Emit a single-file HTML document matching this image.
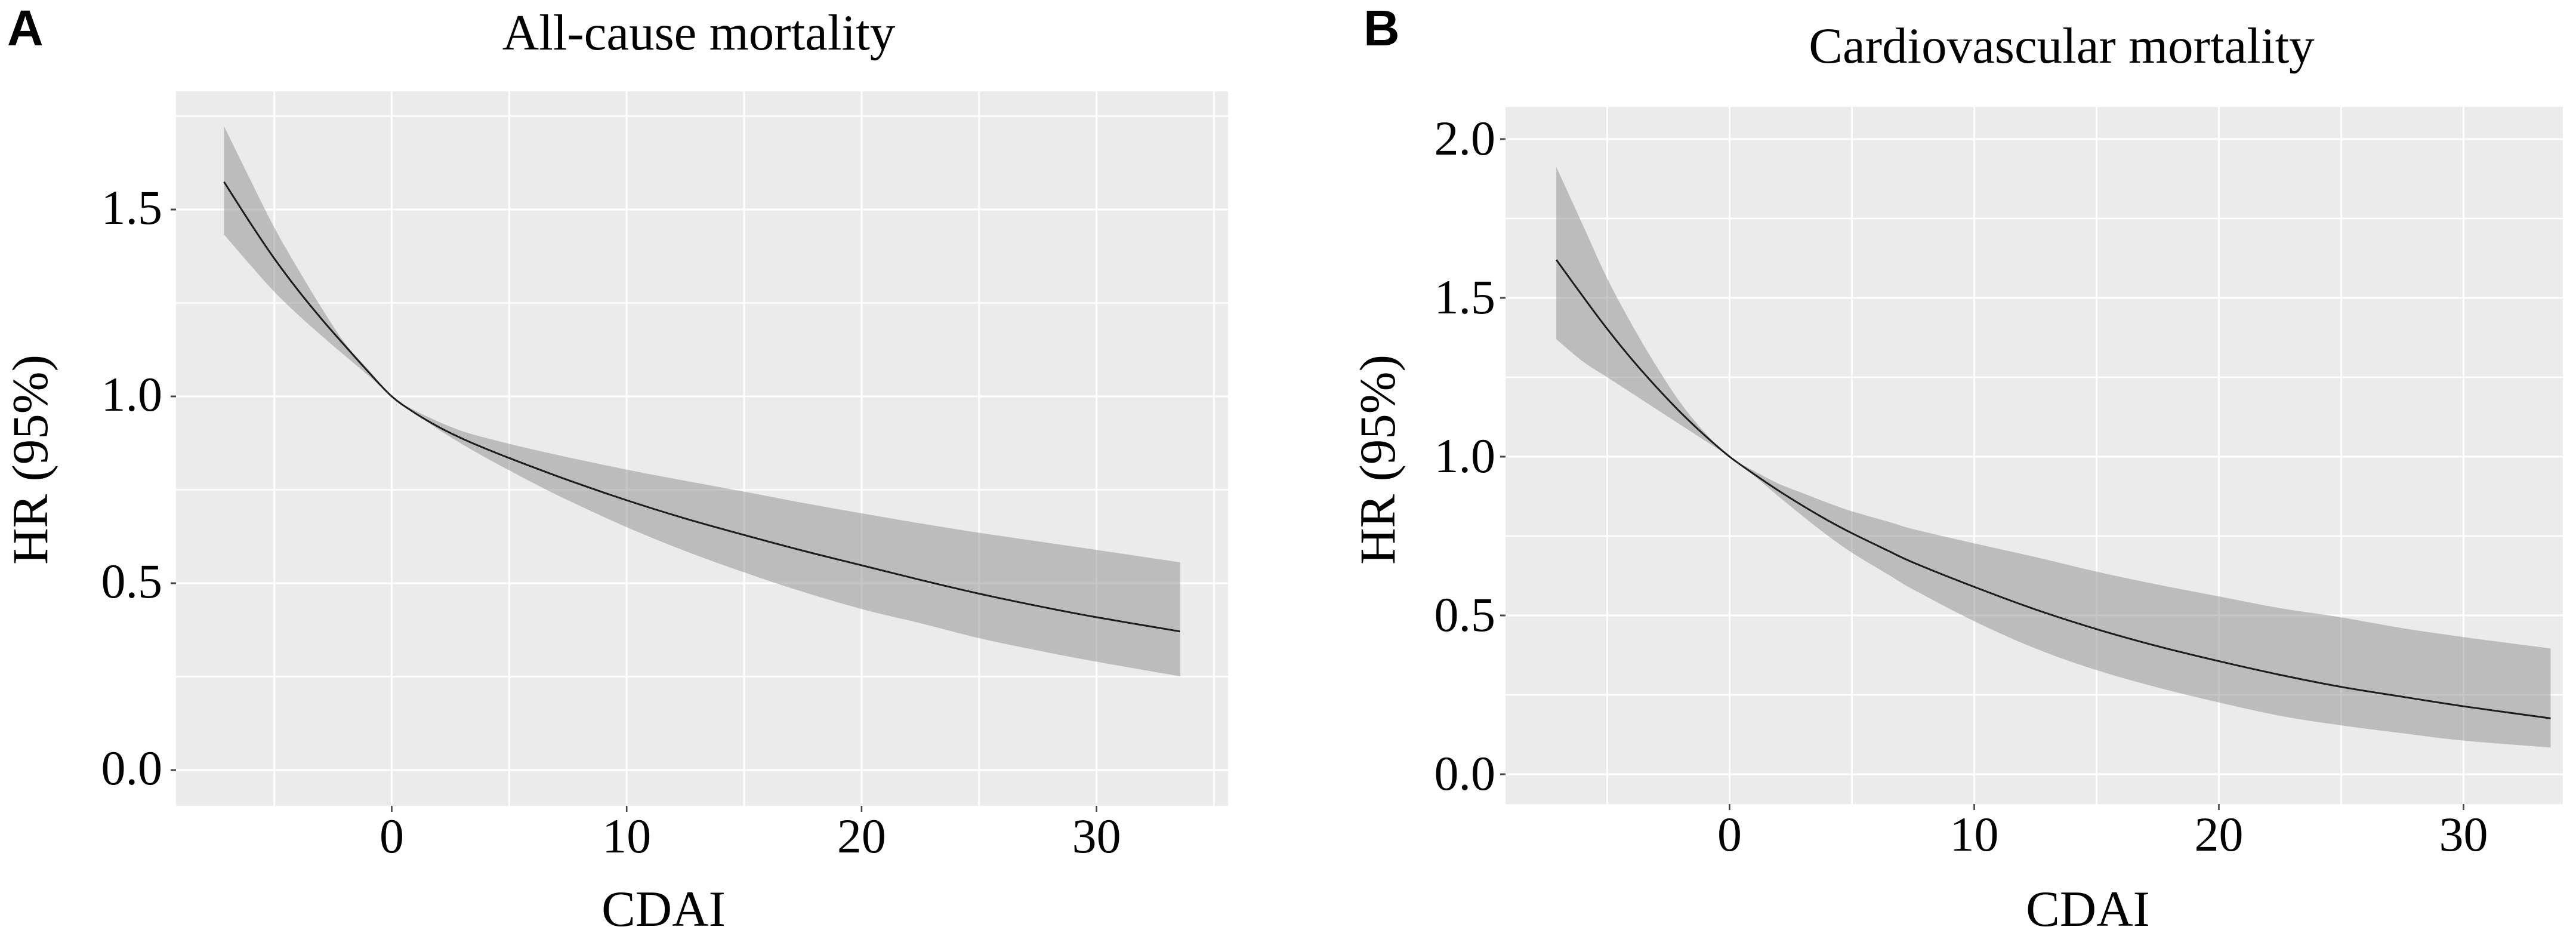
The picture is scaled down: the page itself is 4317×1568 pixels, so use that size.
<!DOCTYPE html>
<html lang="en">
<head>
<meta charset="utf-8">
<title>HR by CDAI: all-cause and cardiovascular mortality</title>
<style>
  html, body { margin: 0; padding: 0; background: #fff; }
  svg { display: block; }
  text { font-family: "Liberation Serif", serif; fill: #000; }
  .letter { font-family: "Liberation Sans", sans-serif; font-weight: bold; font-size: 84px; }
  .title, .axis-title { font-size: 85px; }
  .tick-label { font-size: 82px; }
</style>
</head>
<body>
<svg id="figure" xmlns="http://www.w3.org/2000/svg" width="4317" height="1568" viewBox="0 0 4317 1568">
  <rect x="0" y="0" width="4317" height="1568" fill="#ffffff"/>

  <g id="panel-a"></g>
  <g id="panel-b"></g>

  <text class="letter" x="12" y="76">A</text>
  <text class="title" x="1171" y="83" text-anchor="middle">All-cause mortality</text>
  <text class="axis-title" x="1112" y="1551" text-anchor="middle">CDAI</text>
  <text class="axis-title" text-anchor="middle" transform="translate(79 770) rotate(-90)">HR (95%)</text>

  <text class="letter" x="2285" y="76">B</text>
  <text class="title" x="3455" y="105" text-anchor="middle">Cardiovascular mortality</text>
  <text class="axis-title" x="3499" y="1551" text-anchor="middle">CDAI</text>
  <text class="axis-title" text-anchor="middle" transform="translate(2337 770) rotate(-90)">HR (95%)</text>
</svg>

<script>
// ---- Shared tick values ----
const xTicks = [0, 10, 20, 30];
const xTickLabels = ['0', '10', '20', '30'];

// ---- Panel A: all-cause mortality ----
const cdaiA = [-7.14, -6, -5, -4, -3, -2, -1, 0, 1, 2, 3, 4, 5, 6, 7.5, 10, 12.5, 15, 17.5, 20, 22.5, 25, 27.5, 30, 33.56];
const hrA = [1.574, 1.462, 1.369, 1.285, 1.208, 1.136, 1.066, 1.0, 0.955, 0.918, 0.887, 0.860, 0.835, 0.811, 0.776, 0.722, 0.673, 0.629, 0.587, 0.548, 0.509, 0.472, 0.439, 0.409, 0.371];
const upperA = [1.723, 1.577, 1.452, 1.342, 1.238, 1.143, 1.072, 1.0, 0.962, 0.932, 0.907, 0.889, 0.873, 0.858, 0.837, 0.804, 0.774, 0.745, 0.715, 0.687, 0.660, 0.635, 0.612, 0.589, 0.556];
const lowerA = [1.433, 1.350, 1.280, 1.219, 1.163, 1.109, 1.056, 1.0, 0.954, 0.911, 0.872, 0.836, 0.802, 0.769, 0.722, 0.650, 0.586, 0.529, 0.477, 0.431, 0.393, 0.353, 0.320, 0.290, 0.251];
const yMajorA = [0, 0.5, 1.0, 1.5];
const yMajorLabelsA = ['0.0', '0.5', '1.0', '1.5'];
const yMinorA = [0.25, 0.75, 1.25, 1.75];
const xGridA = [-5, 0, 5, 10, 15, 20, 25, 30, 35];

// ---- Panel B: cardiovascular mortality ----
const cdaiB = [-7.08, -6, -5, -4, -3, -2, -1, 0, 1, 2, 3, 4, 5, 6.5, 7.5, 10, 12.5, 15, 17.5, 20, 22.5, 25, 27.5, 30, 33.56];
const hrB = [1.620, 1.505, 1.402, 1.307, 1.220, 1.139, 1.066, 1.0, 0.945, 0.893, 0.845, 0.800, 0.759, 0.703, 0.667, 0.590, 0.519, 0.457, 0.403, 0.356, 0.313, 0.275, 0.244, 0.214, 0.176];
const upperB = [1.912, 1.730, 1.561, 1.417, 1.286, 1.169, 1.075, 1.0, 0.955, 0.915, 0.885, 0.855, 0.828, 0.795, 0.772, 0.727, 0.684, 0.638, 0.597, 0.560, 0.523, 0.494, 0.460, 0.432, 0.396];
const lowerB = [1.370, 1.300, 1.250, 1.200, 1.150, 1.100, 1.050, 1.0, 0.940, 0.875, 0.812, 0.752, 0.698, 0.628, 0.582, 0.482, 0.396, 0.328, 0.273, 0.226, 0.184, 0.154, 0.129, 0.106, 0.084];
const yMajorB = [0, 0.5, 1.0, 1.5, 2.0];
const yMajorLabelsB = ['0.0', '0.5', '1.0', '1.5', '2.0'];
const yMinorB = [0.25, 0.75, 1.25, 1.75];
const xGridB = [-5, 0, 5, 10, 15, 20, 25, 30];

const SVG_NS = 'http://www.w3.org/2000/svg';

function make(parent, tag, attrs) {
  const el = document.createElementNS(SVG_NS, tag);
  for (const k in attrs) el.setAttribute(k, attrs[k]);
  parent.appendChild(el);
  return el;
}

// Smooth path segments (Catmull-Rom) through screen points; the caller supplies the start command.
function smoothSegments(pts) {
  let d = '';
  for (let i = 0; i < pts.length - 1; i++) {
    const p0 = pts[Math.max(i - 1, 0)];
    const p1 = pts[i];
    const p2 = pts[i + 1];
    const p3 = pts[Math.min(i + 2, pts.length - 1)];
    const c1x = p1[0] + (p2[0] - p0[0]) / 6;
    const c1y = p1[1] + (p2[1] - p0[1]) / 6;
    const c2x = p2[0] - (p3[0] - p1[0]) / 6;
    const c2y = p2[1] - (p3[1] - p1[1]) / 6;
    d += 'C' + c1x.toFixed(1) + ' ' + c1y.toFixed(1) + ' ' + c2x.toFixed(1) + ' ' + c2y.toFixed(1) + ' ' + p2[0].toFixed(1) + ' ' + p2[1].toFixed(1);
  }
  return d;
}

function drawPanel(g, box, xScale, yScale, cdai, hr, upper, lower, xGrid, yMajor, yMinor, yLabels, xLabelBaseline, yLabelOffset, yLabelRight) {
  const bg = make(g, 'rect', { x: box.left, y: box.top, width: box.right - box.left, height: box.bottom - box.top, fill: '#ebebeb' });
  
  

  yMinor.forEach(function (v) {
    const line = make(g, 'line', { x1: box.left, x2: box.right, y1: yScale(v), y2: yScale(v), stroke: '#ffffff', 'stroke-width': 2.6 });
    
    
  });
  yMajor.forEach(function (v) {
    const line = make(g, 'line', { x1: box.left, x2: box.right, y1: yScale(v), y2: yScale(v), stroke: '#ffffff', 'stroke-width': 3 });
    
    
  });
  xGrid.forEach(function (v) {
    const line = make(g, 'line', { x1: xScale(v), x2: xScale(v), y1: box.top, y2: box.bottom, stroke: '#ffffff', 'stroke-width': 3 });
    
    
  });

  const upperPts = cdai.map(function (c, i) { return [xScale(c), yScale(upper[i])]; });
  const lowerPts = cdai.map(function (c, i) { return [xScale(c), yScale(lower[i])]; }).reverse();
  const centerPts = cdai.map(function (c, i) { return [xScale(c), yScale(hr[i])]; });

  const ribbonPath = 'M' + upperPts[0][0].toFixed(1) + ' ' + upperPts[0][1].toFixed(1) + smoothSegments(upperPts) +
    'L' + lowerPts[0][0].toFixed(1) + ' ' + lowerPts[0][1].toFixed(1) + smoothSegments(lowerPts) + 'Z';
  const ribbon = make(g, 'path', { d: ribbonPath, fill: '#8d8d8d', 'fill-opacity': 0.5 });
  
  

  const linePath = 'M' + centerPts[0][0].toFixed(1) + ' ' + centerPts[0][1].toFixed(1) + smoothSegments(centerPts);
  const curve = make(g, 'path', { d: linePath, fill: 'none', stroke: '#1c1c1c', 'stroke-width': 3 });
  
  

  yMajor.forEach(function (v, i) {
    const tick = make(g, 'line', { x1: box.left - 9, x2: box.left, y1: yScale(v), y2: yScale(v), stroke: '#444444', 'stroke-width': 3 });
    
    
    const label = make(g, 'text', { class: 'tick-label', x: yLabelRight, y: yScale(v) + yLabelOffset, 'text-anchor': 'end' });
    
    
    label.textContent = yLabels[i];
  });

  xTicks.forEach(function (v, i) {
    const tick = make(g, 'line', { x1: xScale(v), x2: xScale(v), y1: box.bottom, y2: box.bottom + 10, stroke: '#444444', 'stroke-width': 2.6 });
    
    
    const label = make(g, 'text', { class: 'tick-label', x: xScale(v), y: xLabelBaseline, 'text-anchor': 'middle' });
    
    
    label.textContent = xTickLabels[i];
  });
}

function xScaleA(c) { return 656.5 + 39.37 * c; }
function yScaleA(v) { return 1290 - 626 * v; }
function xScaleB(c) { return 2898.5 + 41.0 * c; }
function yScaleB(v) { return 1297 - 532 * v; }

drawPanel(document.getElementById('panel-a'),
  { left: 295, right: 2058, top: 153, bottom: 1350 },
  xScaleA, yScaleA, cdaiA, hrA, upperA, lowerA, xGridA, yMajorA, yMinorA, yMajorLabelsA, 1428, 24, 272);

drawPanel(document.getElementById('panel-b'),
  { left: 2523, right: 4295, top: 179, bottom: 1347 },
  xScaleB, yScaleB, cdaiB, hrB, upperB, lowerB, xGridB, yMajorB, yMinorB, yMajorLabelsB, 1425, 26, 2506);
</script>
</body>
</html>
